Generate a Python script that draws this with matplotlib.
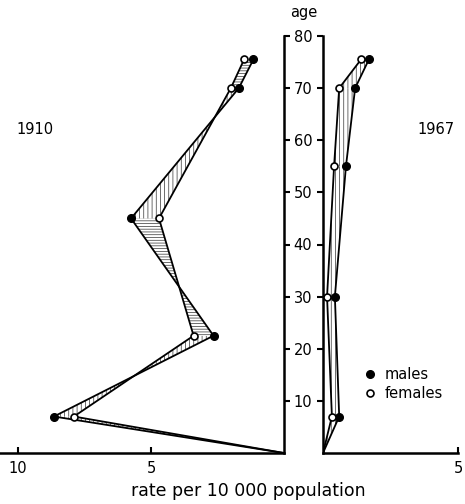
import matplotlib
matplotlib.use("Agg")
import matplotlib.pyplot as plt
from matplotlib.lines import Line2D

# --- data: rate by age, 1910 vs 1967 ---
ages_1910 = [0, 7, 22.5, 45, 70, 75.5]
males_1910 = [0, 8.65, 2.65, 5.75, 1.7, 1.15]
females_1910 = [0, 7.9, 3.4, 4.7, 2.0, 1.5]
hatch_1910 = ["||||", "||||", "------", "||||", "------"]

ages_1967 = [0, 7, 30, 55, 70, 75.5]
males_1967 = [0, 0.6, 0.44, 0.85, 1.19, 1.7]
females_1967 = [0, 0.33, 0.15, 0.41, 0.6, 1.41]
hatch_1967 = ["||||", "||||", "||||", "||||", "||||"]

age_ticks = [10, 20, 30, 40, 50, 60, 70, 80]

plt.rcParams["hatch.linewidth"] = 0.5
plt.rcParams["font.family"] = "DejaVu Sans"

W, H = 465, 504
fig = plt.figure(figsize=(W / 100, H / 100), dpi=100)

bot = (H - 453) / H
hgt = (453 - 36) / H
axL = fig.add_axes([0, bot, 284 / W, hgt])
axR = fig.add_axes([323 / W, bot, (458 - 323) / W, hgt])


def panel(ax, ages, males, females, hatches):
    for i in range(len(ages) - 1):
        ax.fill_betweenx(ages[i:i + 2], males[i:i + 2], females[i:i + 2],
                         facecolor="white", edgecolor="#333333", lw=0,
                         hatch=hatches[i])
    ax.plot(males, ages, color="black", lw=1.3)
    ax.plot(females, ages, color="black", lw=1.3)
    ax.plot(males[1:], ages[1:], "o", ls="none", ms=5.5, mfc="black",
            mec="black", zorder=5, clip_on=False)
    ax.plot(females[1:], ages[1:], "o", ls="none", ms=5, mfc="white",
            mec="black", mew=1.2, zorder=6, clip_on=False)
    ax.set_ylim(0, 80)
    ax.spines["top"].set_visible(False)
    for s in ax.spines.values():
        s.set_linewidth(1.8)


panel(axL, ages_1910, males_1910, females_1910, hatch_1910)
axL.set_xlim(284 / 26.6, 0)
axL.spines["left"].set_visible(False)
axL.yaxis.tick_right()
axL.set_yticks(age_ticks)
axL.tick_params(axis="y", direction="out", length=4, width=1.5, pad=3,
                labelsize=10.5)
axL.set_xticks([10, 5])
axL.tick_params(axis="x", direction="in", length=4, width=1.5, pad=6,
                labelsize=10.5)

panel(axR, ages_1967, males_1967, females_1967, hatch_1967)
axR.set_xlim(0, 5)
axR.spines["right"].set_visible(False)
axR.set_yticks(age_ticks)
axR.tick_params(axis="y", direction="out", length=4, width=1.5,
                labelleft=False)
axR.set_xticks([5])
axR.tick_params(axis="x", direction="in", length=4, width=1.5, pad=6,
                labelsize=10.5)

handles = [Line2D([], [], marker="o", ls="none", ms=5.5, mfc="black", mec="black"),
           Line2D([], [], marker="o", ls="none", ms=5, mfc="white", mec="black", mew=1.2)]
axR.legend(handles, ["males", "females"], frameon=False, fontsize=10.5,
           loc="center left", bbox_to_anchor=((355 - 323) / 135, (452 - 383) / 417),
           handletextpad=0.4, labelspacing=0.3, handlelength=1.2,
           borderaxespad=0)

fig.text(304 / W, 1 - 12 / H, "age", ha="center", va="center", fontsize=10.5)
fig.text(35 / W, 1 - 130 / H, "1910", ha="center", va="center", fontsize=10.5)
fig.text(436 / W, 1 - 130 / H, "1967", ha="center", va="center", fontsize=10.5)
fig.text(248 / W, 1 - 491 / H, "rate per 10 000 population", ha="center",
         va="center", fontsize=12.5)

fig.savefig("out.png", dpi=100)
